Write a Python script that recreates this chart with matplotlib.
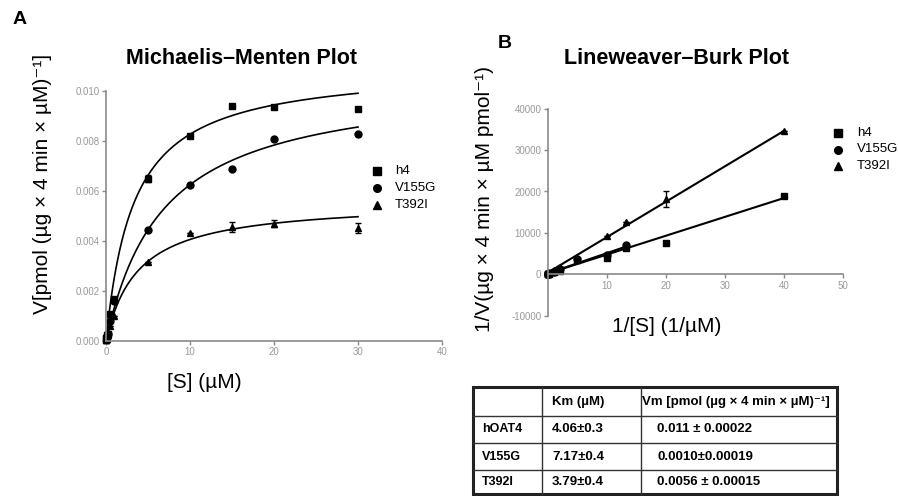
import numpy as np
import matplotlib
matplotlib.use("Agg")
import matplotlib.pyplot as plt

plt.rcParams['font.family'] = ['Liberation Sans', 'DejaVu Sans']
plt.rcParams['axes.unicode_minus'] = False

# substrate concentrations (uM)
conc = np.array([0.025, 0.05, 0.075, 0.1, 0.2, 0.5, 1, 5, 10, 15, 20, 30])

# measured velocities
v_h4 = np.array([5.3e-5, 1.33e-4, 1.6e-4, 2.5e-4, 3.0e-4, 0.0011, 0.0017,
                 0.0065, 0.0082, 0.0094, 0.00935, 0.0093])
v_v155g = np.array([np.nan, np.nan, 1.43e-4, 2.2e-4, 2.7e-4, 0.0008, 0.0016,
                    0.00444, 0.00624, 0.0069, 0.0081, 0.0083])
v_t392i = np.array([2.88e-5, 5.49e-5, 7.87e-5, 1.075e-4, 2.5e-4, 5.9e-4, 0.0010,
                    0.00317, 0.00433, 0.00457, 0.0047, 0.00453])

err_h4 = np.array([0, 0, 0, 0, 0, 0, 0, 0.00015, 0, 0, 0, 0])
err_v155g = np.zeros(12)
err_t392i = np.array([0, 0, 0, 0, 0, 0, 0, 0, 0, 0.0002, 0.00013, 0.0002])

# error on the reciprocal plot
lb_err_t392i = np.array([0, 1900, 0, 0, 0, 0, 0, 0, 0, 0, 0, 0])

# fitted Michaelis-Menten parameters (curves as drawn)
fit_vmax = [0.0110, 0.0105, 0.0056]
fit_km = [3.3, 6.8, 3.79]

# Lineweaver-Burk fitted lines: slope, intercept, last 1/[S]
lb_slope = [455, 490, 855]
lb_icpt = [200, 200, 400]
lb_xmax = [40, 13.3, 40]

names = ['h4', 'V155G', 'T392I']
markers = ['s', 'o', '^']

# table contents
tab_header = ['', 'Km (µM)', 'Vm [pmol (µg × 4 min × µM)⁻¹]']
tab_rows = ['hOAT4', 'V155G', 'T392I']
tab_km = ['4.06±0.3', '7.17±0.4', '3.79±0.4']
tab_vm = ['0.011 ± 0.00022', '0.0010±0.00019', '0.0056 ± 0.00015']

W, H = 898, 496
fig = plt.figure(figsize=(W / 100, H / 100), dpi=100)

gray = '#8a8a8a'


def style(ax):
    for s in ['top', 'right']:
        ax.spines[s].set_visible(False)
    for s in ['left', 'bottom']:
        ax.spines[s].set_color(gray)
        ax.spines[s].set_linewidth(1.2)
    ax.tick_params(direction='out', length=3, width=1, color=gray,
                   labelcolor='#999999', labelsize=7, pad=1.5)


# ---- panel A
axA = fig.add_axes([106 / W, 1 - 341 / H, 336 / W, 250 / H])
style(axA)
vs = [v_h4, v_v155g, v_t392i]
errs = [err_h4, err_v155g, err_t392i]
xs = np.linspace(0, 30, 300)
for i in range(3):
    axA.plot(xs, fit_vmax[i] * xs / (fit_km[i] + xs), color='black', lw=1.2)
    axA.errorbar(conc, vs[i], yerr=errs[i], fmt=markers[i], color='black',
                 ms=5, capsize=2.5, elinewidth=1, clip_on=False)
axA.set_xlim(0, 40)
axA.set_ylim(0, 0.010)
axA.set_xticks([0, 10, 20, 30, 40])
axA.set_yticks(np.arange(0, 0.0101, 0.002))
axA.yaxis.set_major_formatter(matplotlib.ticker.FormatStrFormatter('%.3f'))

# ---- panel B
axB = fig.add_axes([547.7 / W, 1 - 315.7 / H, 295 / W, 207 / H])
style(axB)
axB.spines['bottom'].set_position(('data', 0))
lbx = 1 / conc
lberrs = [np.zeros(12), np.zeros(12), lb_err_t392i]
for i in range(3):
    xl = np.array([0, lb_xmax[i]])
    axB.plot(xl, lb_slope[i] * xl + lb_icpt[i], color='black', lw=1.5)
    axB.errorbar(lbx, 1 / vs[i], yerr=lberrs[i], fmt=markers[i], color='black',
                 ms=5, capsize=2.5, elinewidth=1, clip_on=False)
axB.set_xlim(0, 50)
axB.set_ylim(-10000, 40000)
axB.set_xticks([0, 10, 20, 30, 40, 50])
axB.set_xticklabels(['', '10', '20', '30', '40', '50'])
axB.set_yticks(np.arange(-10000, 40001, 10000))

# ---- legends
for ax, lx, tx, ys in [(axA, 377, 395, [171, 188, 205]),
                       (axB, 838, 857, [133, 149.5, 166])]:
    for i in range(3):
        fig.lines.append(matplotlib.lines.Line2D(
            [lx / W], [1 - ys[i] / H], marker=markers[i], color='black',
            ms=5.5, transform=fig.transFigure, ls='none'))
        fig.text(tx / W, 1 - ys[i] / H, names[i], fontsize=9.5,
                 va='center', ha='left')

# ---- labels & titles
fig.text(20 / W, 1 - 20 / H, 'A', fontsize=14, fontweight='bold',
         ha='center', va='center')
fig.text(505 / W, 1 - 44 / H, 'B', fontsize=14, fontweight='bold',
         ha='center', va='center')
fig.text(241 / W, 1 - 58 / H, 'Michaelis–Menten Plot', fontsize=15.5,
         fontweight='bold', ha='center', va='center')
fig.text(676 / W, 1 - 58 / H, 'Lineweaver–Burk Plot', fontsize=15.5,
         fontweight='bold', ha='center', va='center')
fig.text(43 / W, 1 - 184 / H, 'V[pmol (µg × 4 min × µM)⁻¹]', fontsize=15,
         rotation=90, ha='center', va='center')
fig.text(204 / W, 1 - 382 / H, '[S] (µM)', fontsize=15,
         ha='center', va='center')
fig.text(485 / W, 1 - 199 / H, '1/V(µg × 4 min × µM pmol⁻¹)', fontsize=15,
         rotation=90, ha='center', va='center')
fig.text(667 / W, 1 - 326 / H, '1/[S] (1/µM)', fontsize=15,
         ha='center', va='center')

# ---- table (pixel coordinates overlay)
axT = fig.add_axes([0, 0, 1, 1])
axT.set_xlim(0, W)
axT.set_ylim(H, 0)
axT.axis('off')
cols = [473, 542, 641, 837]
rows = [387, 416, 443, 470, 494]
for y in rows[1:-1]:
    axT.plot([cols[0], cols[-1]], [y, y], color='#333333', lw=1)
for x in cols[1:-1]:
    axT.plot([x, x], [rows[0], rows[-1]], color='#333333', lw=1)
axT.add_patch(plt.Rectangle((cols[0], rows[0]), cols[-1] - cols[0],
                            rows[-1] - rows[0], fill=False, lw=2.2,
                            ec='#222222'))
txt_x = [482, 552, 642]
for j, h in enumerate(tab_header):
    axT.text(txt_x[j], (rows[0] + rows[1]) / 2, h, fontsize=9.5,
             fontweight='bold', va='center', ha='left')
for i in range(3):
    yc = (rows[i + 1] + rows[i + 2]) / 2
    axT.text(482, yc, tab_rows[i], fontsize=9, fontweight='bold', va='center')
    axT.text(552, yc, tab_km[i], fontsize=9.5, fontweight='bold', va='center')
    axT.text(657, yc, tab_vm[i], fontsize=9.5, fontweight='bold', va='center')

fig.savefig('out.png', dpi=100)
